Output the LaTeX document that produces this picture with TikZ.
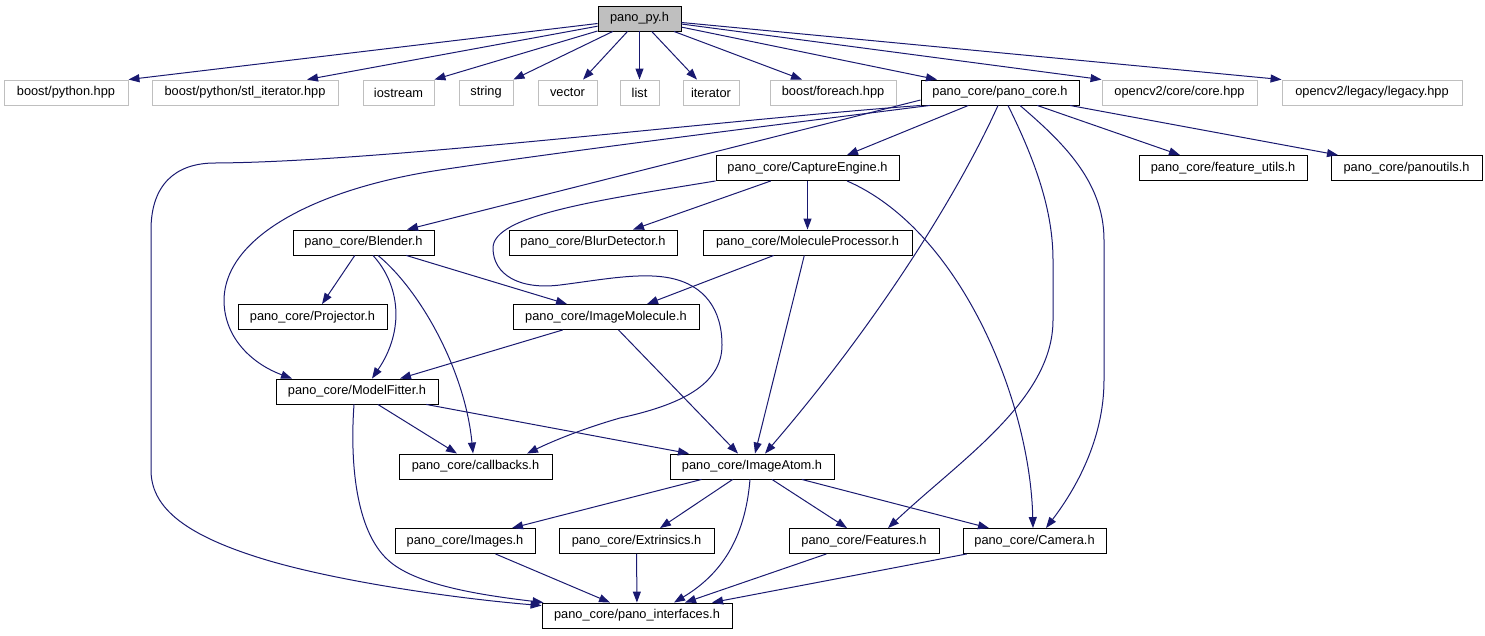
\documentclass[tikz,border=0pt]{standalone}
\usepackage{fontspec}
\setmainfont{Liberation Sans}
\usetikzlibrary{arrows.meta,calc}
\definecolor{navy}{RGB}{25,25,112}
\definecolor{grey75}{RGB}{191,191,191}
\begin{document}
\begin{tikzpicture}[x=1pt,y=-1pt,
  box/.style={draw=black, line width=0.9pt, rectangle, minimum height=25pt, inner sep=0pt,
    font=\fontsize{12.8pt}{15pt}\selectfont, text=black},
  gbox/.style={box, draw=grey75},
  rootbox/.style={box, fill=grey75},
  lnk/.style={draw=navy, line width=1pt, -{Triangle[length=11pt,width=8pt]}}]
\useasboundingbox (0,0) rectangle (1485,635);
% row 1
\node[rootbox, minimum width=83pt] (py) at (639.5,18.5) {pano\_py.h};
% row 2
\node[gbox, minimum width=124pt] (bp) at (66,92.5) {boost/python.hpp};
\node[gbox, minimum width=186pt] (bpsi) at (245,92.5) {boost/python/stl\_iterator.hpp};
\node[gbox, minimum width=71pt] (ios) at (398.5,92.5) {iostream};
\node[gbox, minimum width=54pt] (str) at (486,92.5) {string};
\node[gbox, minimum width=59pt] (vec) at (567.5,92.5) {vector};
\node[gbox, minimum width=39pt] (lst) at (639.5,92.5) {list};
\node[gbox, minimum width=56pt] (itr) at (711,92.5) {iterator};
\node[gbox, minimum width=126pt] (bfe) at (833,92.5) {boost/foreach.hpp};
\node[box, minimum width=158pt] (pc) at (1000,92.5) {pano\_core/pano\_core.h};
\node[gbox, minimum width=155pt] (cv) at (1179.5,92.5) {opencv2/core/core.hpp};
\node[gbox, minimum width=180pt] (leg) at (1372,92.5) {opencv2/legacy/legacy.hpp};
% row 3
\node[box, minimum width=183pt] (ce) at (807.5,168) {pano\_core/CaptureEngine.h};
\node[box, minimum width=168pt] (fu) at (1223,168) {pano\_core/feature\_utils.h};
\node[box, minimum width=151pt] (pu) at (1406.5,168) {pano\_core/panoutils.h};
% row 4
\node[box, minimum width=141pt] (bl) at (363.5,242.5) {pano\_core/Blender.h};
\node[box, minimum width=168pt] (bd) at (593,242.5) {pano\_core/BlurDetector.h};
\node[box, minimum width=209pt] (mp) at (807.5,242.5) {pano\_core/MoleculeProcessor.h};
% row 5
\node[box, minimum width=149pt] (pj) at (312.5,317) {pano\_core/Projector.h};
\node[box, minimum width=186pt] (im) at (606,317) {pano\_core/ImageMolecule.h};
% row 6
\node[box, minimum width=162pt] (mf) at (357,391.5) {pano\_core/ModelFitter.h};
% row 7
\node[box, minimum width=153pt] (cb) at (475.5,466.5) {pano\_core/callbacks.h};
\node[box, minimum width=164pt] (ia) at (752,466.5) {pano\_core/ImageAtom.h};
% row 8
\node[box, minimum width=140pt] (ims) at (465,541) {pano\_core/Images.h};
\node[box, minimum width=155pt] (ext) at (636.5,541) {pano\_core/Extrinsics.h};
\node[box, minimum width=150pt] (fe) at (864,541) {pano\_core/Features.h};
\node[box, minimum width=143pt] (cam) at (1034.5,541) {pano\_core/Camera.h};
% row 9
\node[box, minimum width=190pt] (pi) at (637,615.5) {pano\_core/pano\_interfaces.h};

% edges from pano_py.h
\draw[lnk] (py) -- (bp.north east);
\draw[lnk] (py) -- ($(bpsi.north)+(62,0)$);
\draw[lnk] (py) -- (ios.north east);
\draw[lnk] (py) -- (str.north east);
\draw[lnk] (py) -- ($(vec.north)+(15.5,0)$);
\draw[lnk] (py) -- (lst.north);
\draw[lnk] (py) -- ($(itr.north)+(-14,0)$);
\draw[lnk] (py) -- ($(bfe.north)+(-31,0)$);
\draw[lnk] (py) -- ($(pc.north)+(-63,0)$);
\draw[lnk] (py) -- (cv.north west);
\draw[lnk] (py) -- (leg.north west);

% edges from pano_core.h
\draw[lnk] (pc) -- ($(ce.north)+(39.5,0)$);
\draw[lnk] (pc) -- ($(fu.north)+(-43,0)$);
\draw[lnk] (pc) -- ($(pu.north)+(-68.5,0)$);
\draw[lnk] ($(pc.west)+(0,7.5)$) -- ($(bl.north)+(43.5,0)$);
\draw[lnk] ($(pc.south)+(-70,0)$) .. controls (750,128) and (560,152) .. (440,170)
  .. controls (320,188) and (225,235) .. (224,300)
  .. controls (224,340) and (255,365) .. ($(mf.north)+(-65,0)$);
\draw[lnk] (pc.south west) .. controls (700,122) and (380,162) .. (215,163)
  .. controls (175,163) and (151,185) .. (151,230) -- (151,470)
  .. controls (151,505) and (180,533) .. (260,558)
  .. controls (330,580) and (450,598) .. ($(pi.north west)+(0,3)$);
\draw[lnk] ($(pc.south)+(-2,0)$) .. controls (960,190) and (880,320) .. ($(ia.north)+(13,0)$);
\draw[lnk] ($(pc.south)+(8,0)$) .. controls (1035,160) and (1053,210) .. (1053,260) -- (1053,320)
  .. controls (1053,400) and (960,460) .. ($(fe.north)+(24,0)$);
\draw[lnk] ($(pc.south)+(20,0)$) .. controls (1060,140) and (1104,180) .. (1104,240) -- (1104,380)
  .. controls (1104,440) and (1075,490) .. ($(cam.north)+(11.5,0)$);

% edges from CaptureEngine.h
\draw[lnk] (ce) -- ($(bd.north)+(40,0)$);
\draw[lnk] (ce) -- (mp);
\draw[lnk] (ce.south west) .. controls (600,200) and (493,215) .. (493,248)
  .. controls (493,275) and (520,290) .. (560,285)
  .. controls (600,280) and (640,272) .. (670,278)
  .. controls (705,285) and (722,310) .. (722,345)
  .. controls (722,385) and (680,405) .. (620,418)
  .. controls (585,428) and (555,440) .. ($(cb.north)+(51.5,0)$);
\draw[lnk] ($(ce.south)+(39.5,0)$) .. controls (960,230) and (1030,400) .. ($(cam.north)+(-1.5,0)$);

% edges from Blender.h
\draw[lnk] (bl) -- ($(pj.north)+(9.5,0)$);
\draw[lnk] ($(bl.south)+(9.5,0)$) .. controls (400,285) and (405,330) .. ($(mf.north)+(15,0)$);
\draw[lnk] ($(bl.south)+(14.5,0)$) .. controls (420,290) and (465,370) .. ($(cb.north)+(-2.5,0)$);
\draw[lnk] (bl) -- ($(im.north)+(-39,0)$);

% edges from MoleculeProcessor.h
\draw[lnk] (mp) -- ($(im.north)+(41,0)$);
\draw[lnk] (mp) -- ($(ia.north)+(3,0)$);

% edges from ImageMolecule.h
\draw[lnk] (im) -- ($(mf.north)+(43,0)$);
\draw[lnk] (im) -- ($(ia.north)+(-14,0)$);

% edges from ModelFitter.h
\draw[lnk] (mf) -- ($(cb.north)+(-18.5,0)$);
\draw[lnk] (mf) -- ($(ia.north)+(-63,0)$);
\draw[lnk] ($(mf.south)+(-3,0)$) .. controls (350,460) and (355,530) .. (388,560)
  .. controls (415,585) and (480,595) .. ($(pi.north west)+(2,0)$);

% edges from ImageAtom.h
\draw[lnk] (ia) -- ($(ims.north)+(47,0)$);
\draw[lnk] (ia) -- ($(ext.north)+(23.5,0)$);
\draw[lnk] (ia) -- ($(fe.north)+(-17,0)$);
\draw[lnk] (ia) -- ($(cam.north)+(-45.5,0)$);
\draw[lnk] ($(ia.south)+(-2,0)$) .. controls (745,540) and (720,575) .. ($(pi.north)+(37,0)$);

% edges into pano_interfaces.h
\draw[lnk] (ims) -- ($(pi.north)+(-27,0)$);
\draw[lnk] (ext) -- (pi);
\draw[lnk] (fe) -- ($(pi.north)+(48,0)$);
\draw[lnk] (cam) -- ($(pi.north)+(75,0)$);
\end{tikzpicture}
\end{document}
